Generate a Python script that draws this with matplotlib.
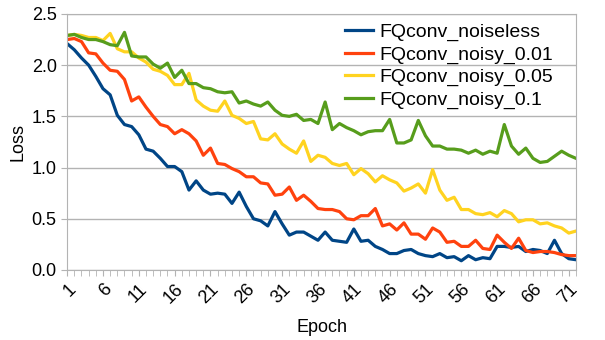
import matplotlib
matplotlib.use("Agg")
import matplotlib.pyplot as plt
import numpy as np

plt.rcParams['font.family'] = ['Liberation Sans', 'DejaVu Sans']

# data
epochs = list(range(1, 73))

noiseless = [2.21, 2.15, 2.07, 2.00, 1.89, 1.77, 1.71, 1.51, 1.42, 1.40,
             1.32, 1.18, 1.16, 1.09, 1.01, 1.01, 0.96, 0.78, 0.87, 0.78,
             0.74, 0.75, 0.74, 0.65, 0.76, 0.62, 0.50, 0.48, 0.43, 0.57,
             0.45, 0.34, 0.37, 0.37, 0.33, 0.29, 0.37, 0.29, 0.28, 0.27,
             0.40, 0.28, 0.29, 0.23, 0.20, 0.16, 0.16, 0.19, 0.20, 0.16,
             0.14, 0.13, 0.16, 0.12, 0.13, 0.09, 0.14, 0.10, 0.12, 0.11,
             0.23, 0.23, 0.22, 0.23, 0.18, 0.20, 0.19, 0.16, 0.29, 0.16,
             0.11, 0.10]

noisy_001 = [2.25, 2.26, 2.23, 2.12, 2.11, 2.02, 1.95, 1.94, 1.86, 1.65,
             1.69, 1.59, 1.50, 1.42, 1.40, 1.33, 1.37, 1.33, 1.26, 1.12,
             1.19, 1.04, 1.03, 0.99, 0.96, 0.91, 0.91, 0.85, 0.84, 0.73,
             0.74, 0.81, 0.68, 0.73, 0.67, 0.60, 0.59, 0.59, 0.57, 0.50,
             0.49, 0.53, 0.53, 0.60, 0.43, 0.45, 0.39, 0.46, 0.35, 0.35,
             0.30, 0.41, 0.37, 0.27, 0.28, 0.23, 0.23, 0.29, 0.21, 0.20,
             0.34, 0.27, 0.21, 0.31, 0.19, 0.17, 0.18, 0.18, 0.17, 0.15,
             0.14, 0.14]

noisy_005 = [2.29, 2.30, 2.29, 2.27, 2.27, 2.24, 2.31, 2.16, 2.13, 2.13,
             2.07, 2.03, 1.96, 1.94, 1.90, 1.81, 1.81, 1.92, 1.66, 1.60,
             1.56, 1.55, 1.65, 1.51, 1.48, 1.43, 1.45, 1.28, 1.27, 1.33,
             1.23, 1.18, 1.14, 1.26, 1.06, 1.12, 1.10, 1.04, 1.02, 1.04,
             0.93, 0.99, 0.94, 0.86, 0.92, 0.88, 0.85, 0.77, 0.80, 0.84,
             0.75, 0.98, 0.78, 0.68, 0.71, 0.59, 0.59, 0.55, 0.54, 0.56,
             0.52, 0.58, 0.55, 0.47, 0.49, 0.49, 0.45, 0.46, 0.43, 0.41,
             0.36, 0.38]

noisy_01 = [2.29, 2.30, 2.27, 2.25, 2.25, 2.23, 2.20, 2.19, 2.32, 2.09,
            2.08, 2.08, 2.01, 1.97, 2.02, 1.88, 1.95, 1.82, 1.82, 1.78,
            1.77, 1.74, 1.73, 1.74, 1.63, 1.65, 1.62, 1.60, 1.64, 1.56,
            1.51, 1.50, 1.52, 1.46, 1.47, 1.43, 1.64, 1.37, 1.43, 1.39,
            1.36, 1.32, 1.35, 1.36, 1.36, 1.47, 1.24, 1.24, 1.27, 1.46,
            1.31, 1.21, 1.21, 1.18, 1.18, 1.17, 1.14, 1.17, 1.13, 1.16,
            1.14, 1.42, 1.21, 1.13, 1.19, 1.09, 1.05, 1.06, 1.11, 1.16,
            1.12, 1.09]

series = [("FQconv_noiseless", noiseless, "#004586"),
          ("FQconv_noisy_0.01", noisy_001, "#ff420e"),
          ("FQconv_noisy_0.05", noisy_005, "#ffd320"),
          ("FQconv_noisy_0.1", noisy_01, "#579d1c")]

fig = plt.figure(figsize=(6.05, 3.4), dpi=100)
ax = fig.add_axes([0.111, 0.206, 0.841, 0.753])

for name, vals, col in series:
    ax.plot(epochs, vals, color=col, lw=2.3, label=name)

ax.set_xlim(1, 72)
ax.set_ylim(0, 2.5)
ax.set_yticks(np.arange(0, 2.51, 0.5))
ax.set_yticklabels(["%.1f" % v for v in np.arange(0, 2.51, 0.5)])
ax.set_xticks(range(1, 73, 5))
ax.set_xticks(range(1, 73), minor=True)
ax.set_xticklabels([str(e) for e in range(1, 73, 5)], rotation=45,
                   ha="right", rotation_mode="anchor")

ax.grid(axis="y", color="#b3b3b3", lw=1)
ax.set_axisbelow(True)
for s in ax.spines.values():
    s.set_color("#b3b3b3")
ax.tick_params(axis="both", colors="#b3b3b3", labelcolor="black",
               labelsize=13, length=4)
ax.tick_params(axis="x", which="minor", colors="#b3b3b3", length=4)

ax.set_xlabel("Epoch", fontsize=13, labelpad=9)
ax.set_ylabel("Loss", fontsize=13)

# legend sits a bit left of the right edge, no frame
ax.legend(loc="upper left", frameon=False, fontsize=14,
          handlelength=1.45, handletextpad=0.3, labelspacing=0.25,
          borderaxespad=0.2, bbox_to_anchor=(0.523, 1.01))

fig.savefig("out.png", dpi=100)
